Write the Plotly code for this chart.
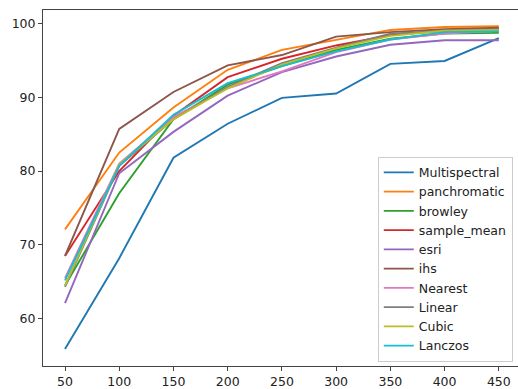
import plotly.graph_objects as go

# Sample sizes on the x axis
x_vals = [50, 100, 150, 200, 250, 300, 350, 400, 450]

# Accuracy (%) for each pan-sharpening / resampling method
multispectral = [55.9, 68.2, 81.8, 86.4, 89.9, 90.5, 94.5, 94.9, 98.0]
panchromatic = [72.1, 82.5, 88.6, 93.7, 96.4, 97.7, 99.1, 99.5, 99.6]
browley = [64.5, 77.0, 87.0, 91.7, 94.2, 96.4, 97.9, 98.6, 98.7]
sample_mean = [68.5, 80.0, 87.5, 92.7, 95.2, 97.0, 98.4, 99.0, 99.3]
esri = [62.1, 79.7, 85.3, 90.2, 93.4, 95.5, 97.1, 97.7, 97.7]
ihs = [68.5, 85.7, 90.7, 94.3, 95.7, 98.2, 98.8, 99.2, 99.4]
nearest = [65.5, 81.0, 87.3, 91.2, 93.5, 96.1, 97.8, 98.6, 99.0]
linear = [64.3, 80.7, 87.0, 91.4, 94.6, 96.7, 98.6, 99.0, 99.2]
cubic = [64.5, 80.9, 87.0, 91.2, 94.4, 96.6, 98.3, 99.0, 99.1]
lanczos = [65.2, 80.7, 87.6, 91.9, 94.2, 96.2, 97.8, 98.8, 98.9]

series_names = ["Multispectral", "panchromatic", "browley", "sample_mean", "esri",
                "ihs", "Nearest", "Linear", "Cubic", "Lanczos"]
series_values = [multispectral, panchromatic, browley, sample_mean, esri,
                 ihs, nearest, linear, cubic, lanczos]
series_colors = ["#1f77b4", "#ff7f0e", "#2ca02c", "#d62728", "#9467bd",
                 "#8c564b", "#e377c2", "#7f7f7f", "#bcbd22", "#17becf"]

y_ticks = [60, 70, 80, 90, 100]

fig = go.Figure()
for name, vals, col in zip(series_names, series_values, series_colors):
    fig.add_trace(go.Scatter(x=x_vals, y=vals, mode="lines", name=name,
                             line=dict(color=col, width=1.9)))

font = dict(family="DejaVu Sans", size=12.5, color="#222")

fig.update_layout(
    width=518, height=389,
    margin=dict(l=43, r=0, t=10, b=23),
    paper_bgcolor="white", plot_bgcolor="white",
    font=font,
    showlegend=True,
    legend=dict(x=0.989, y=0.012, xanchor="right", yanchor="bottom",
                bgcolor="rgba(255,255,255,0.8)", bordercolor="#cccccc",
                borderwidth=1, font=font),
    xaxis=dict(range=[29.7, 467.7], tickvals=x_vals, showgrid=False, zeroline=False,
               showline=True, linecolor="#444", linewidth=1, mirror=True,
               ticks="outside", ticklen=4, tickcolor="#444", tickfont=font),
    yaxis=dict(range=[53.6, 101.8], tickvals=y_ticks, showgrid=False, zeroline=False,
               showline=True, linecolor="#444", linewidth=1,
               ticks="outside", ticklen=4, tickcolor="#444", tickfont=font),
)

fig.write_html("out.html")
